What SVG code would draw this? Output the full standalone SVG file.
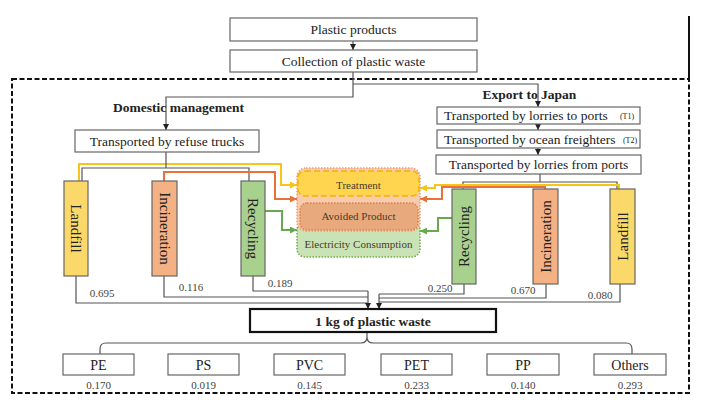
<svg xmlns="http://www.w3.org/2000/svg" width="704" height="404" viewBox="0 0 704 404">
<defs>
<style>
.box{fill:#fff;stroke:#666;stroke-width:1.2}
.t{font-family:"Liberation Serif","Times New Roman",serif;fill:#222;text-anchor:middle}
.b{font-size:13.5px}
.bold{font-weight:bold;font-size:13.5px}
.sm{font-size:8px}
.v{font-size:11px;fill:#444}
.rt{font-size:15px}
.ct{font-size:11px;fill:#4a3a2a}
.c{fill:none;stroke:#555;stroke-width:1.2}
.y{fill:none;stroke:#F5C518;stroke-width:2}
.o{fill:none;stroke:#E9713A;stroke-width:2}
.g{fill:none;stroke:#6AA84F;stroke-width:2}
.lf{fill:#FAD96A;stroke:#666;stroke-width:1.2}
.in{fill:#F4B183;stroke:#666;stroke-width:1.2}
.rc{fill:#A9D18E;stroke:#666;stroke-width:1.2}
</style>
<marker id="ak" markerUnits="userSpaceOnUse" markerWidth="6" markerHeight="6" refX="6" refY="3" orient="auto"><path d="M0,0 L6,3 L0,6 z" fill="#222"/></marker>
<marker id="ay" markerUnits="userSpaceOnUse" markerWidth="7" markerHeight="7" refX="7" refY="3.5" orient="auto"><path d="M0,0 L7,3.5 L0,7 z" fill="#F5C518"/></marker>
<marker id="ao" markerUnits="userSpaceOnUse" markerWidth="7" markerHeight="7" refX="7" refY="3.5" orient="auto"><path d="M0,0 L7,3.5 L0,7 z" fill="#E9713A"/></marker>
<marker id="ag" markerUnits="userSpaceOnUse" markerWidth="7" markerHeight="7" refX="7" refY="3.5" orient="auto"><path d="M0,0 L7,3.5 L0,7 z" fill="#6AA84F"/></marker>
</defs>
<rect width="704" height="404" fill="#fff"/>

<g id="frame">
<rect x="12" y="79" width="677" height="314" fill="none" stroke="#111" stroke-width="2" stroke-dasharray="5 2.5"/>
<line x1="689" y1="16" x2="689" y2="79" stroke="#111" stroke-width="2"/>
</g>

<g id="connectors">
<path class="c" d="M353 41 V50" marker-end="url(#ak)"/>
<path class="c" d="M353 72 V97 H166 V130" marker-end="url(#ak)"/>
<path class="c" d="M353 84 H538 V107" marker-end="url(#ak)"/>
<path class="c" d="M538 124 V130" marker-end="url(#ak)"/>
<path class="c" d="M538 148 V155" marker-end="url(#ak)"/>
<path class="y" d="M79 181 V164 H281 V185 H297" marker-end="url(#ay)"/>
<path class="c" d="M82 181 V168 H249 V181 M166 152 V168"/>
<path class="o" d="M164 181 V172 H275 V199 H297" marker-end="url(#ao)"/>
<path class="g" d="M265 211 H282 V230 H297" marker-end="url(#ag)"/>
<path class="c" d="M540 174 V182 M463 189 V182 H617 V189"/>
<path class="y" d="M619 189 V185 H435 V188 H420" marker-end="url(#ay)"/>
<path class="o" d="M545 189 V187 H442 V199 H420" marker-end="url(#ao)"/>
<path class="g" d="M452 218 H438 V231 H420" marker-end="url(#ag)"/>
<path class="c" d="M76 276 V303 H368 M164 276 V297 H368 M253 276 V291 H368"/>
<path class="c" d="M368 291 V309" marker-end="url(#ak)"/>
<path class="c" d="M464 284 V294 H379 M546 284 V298 H379 M620 284 V302 H379"/>
<path class="c" d="M379 294 V309" marker-end="url(#ak)"/>
<path class="c" d="M367 332 V337 Q367 343 361 343 H106 Q100 343 100 349 V354 M367 337 Q367 343 373 343 H626 Q632 343 632 349 V354"/>
</g>

<g id="plastic-products"><rect class="box" x="230" y="18" width="247" height="23"/><text class="t b" x="353.5" y="34">Plastic products</text></g>
<g id="collection"><rect class="box" x="230" y="50" width="247" height="22"/><text class="t b" x="353.5" y="65.5">Collection of plastic waste</text></g>
<g id="domestic-label"><text class="t bold" x="178.5" y="112">Domestic management</text></g>
<g id="export-label"><text class="t bold" x="529.5" y="99">Export to Japan</text></g>
<g id="refuse-trucks"><rect class="box" x="75" y="130" width="184" height="22"/><text class="t b" x="167" y="145.5">Transported by refuse trucks</text></g>
<g id="t1"><rect class="box" x="437" y="107" width="203" height="17"/><text class="t b" x="444" y="120" style="text-anchor:start">Transported by lorries to ports</text><text class="t sm" x="627" y="119">(T1)</text></g>
<g id="t2"><rect class="box" x="437" y="130" width="203" height="18"/><text class="t b" x="444" y="143.5" style="text-anchor:start">Transported by ocean freighters</text><text class="t sm" x="630" y="142.5">(T2)</text></g>
<g id="lorries-from-ports"><rect class="box" x="436" y="155" width="205" height="19"/><text class="t b" x="538.5" y="169">Transported by lorries from ports</text></g>

<g id="landfill-d"><rect class="lf" x="64" y="181" width="24" height="95"/><text class="t rt" transform="translate(76 228.5) rotate(90)" y="5">Landfill</text></g>
<g id="incineration-d"><rect class="in" x="152" y="181" width="25" height="95"/><text class="t rt" transform="translate(164.5 228.5) rotate(90)" y="5">Incineration</text></g>
<g id="recycling-d"><rect class="rc" x="241" y="181" width="24" height="95"/><text class="t rt" transform="translate(253 228.5) rotate(90)" y="5">Recycling</text></g>

<g id="recycling-e"><rect class="rc" x="452" y="189" width="24" height="95"/><text class="t rt" transform="translate(464 236.5) rotate(-90)" y="5">Recycling</text></g>
<g id="incineration-e"><rect class="in" x="533" y="189" width="25" height="95"/><text class="t rt" transform="translate(545.5 236.5) rotate(-90)" y="5">Incineration</text></g>
<g id="landfill-e"><rect class="lf" x="610" y="189" width="25" height="95"/><text class="t rt" transform="translate(622.5 236.5) rotate(-90)" y="5">Landfill</text></g>

<g id="impacts">
<rect x="297" y="222" width="123" height="35" rx="8" fill="#C9E3B6" stroke="#70AD47" stroke-width="1.5" stroke-dasharray="1.5 1.5"/>
<rect x="297" y="168" width="123" height="63" rx="9" fill="#F8CBAD" stroke="#E9A077" stroke-width="1.5" stroke-dasharray="1.5 1.5"/>
<rect x="298" y="171" width="121" height="25" rx="7" fill="#FFD54F" stroke="#F0B400" stroke-width="1.5" stroke-dasharray="6 3"/>
<rect x="300" y="203" width="118" height="27" rx="7" fill="#E8A97C" stroke="#D9824A" stroke-width="1.5" stroke-dasharray="1.5 1.5"/>
<text class="t ct" x="358.5" y="189">Treatment</text>
<text class="t ct" x="358.5" y="220">Avoided Product</text>
<text class="t ct" x="358.5" y="248">Electricity Consumption</text>
</g>

<g id="values">
<text class="t v" x="102" y="296.5">0.695</text>
<text class="t v" x="191" y="290.5">0.116</text>
<text class="t v" x="280" y="286.5">0.189</text>
<text class="t v" x="440" y="291.5">0.250</text>
<text class="t v" x="523" y="294">0.670</text>
<text class="t v" x="600" y="298.5">0.080</text>
</g>

<g id="one-kg"><rect x="250" y="309" width="246" height="23" fill="#fff" stroke="#111" stroke-width="2.2"/><text class="t bold" x="373" y="325.5">1 kg of plastic waste</text></g>

<g id="pe"><rect class="box" x="63" y="354" width="71" height="21"/><text class="t" style="font-size:14px" x="98.5" y="369.5">PE</text><text class="t v" x="98.5" y="389">0.170</text></g>
<g id="ps"><rect class="box" x="168" y="354" width="71" height="21"/><text class="t" style="font-size:14px" x="203.5" y="369.5">PS</text><text class="t v" x="203.5" y="389">0.019</text></g>
<g id="pvc"><rect class="box" x="274" y="354" width="71" height="21"/><text class="t" style="font-size:14px" x="309.5" y="369.5">PVC</text><text class="t v" x="309.5" y="389">0.145</text></g>
<g id="pet"><rect class="box" x="381" y="354" width="71" height="21"/><text class="t" style="font-size:14px" x="416.5" y="369.5">PET</text><text class="t v" x="416.5" y="389">0.233</text></g>
<g id="pp"><rect class="box" x="487" y="354" width="72" height="21"/><text class="t" style="font-size:14px" x="523" y="369.5">PP</text><text class="t v" x="523" y="389">0.140</text></g>
<g id="others"><rect class="box" x="594" y="354" width="72" height="21"/><text class="t" style="font-size:14px" x="630" y="369.5">Others</text><text class="t v" x="630" y="389">0.293</text></g>
</svg>
